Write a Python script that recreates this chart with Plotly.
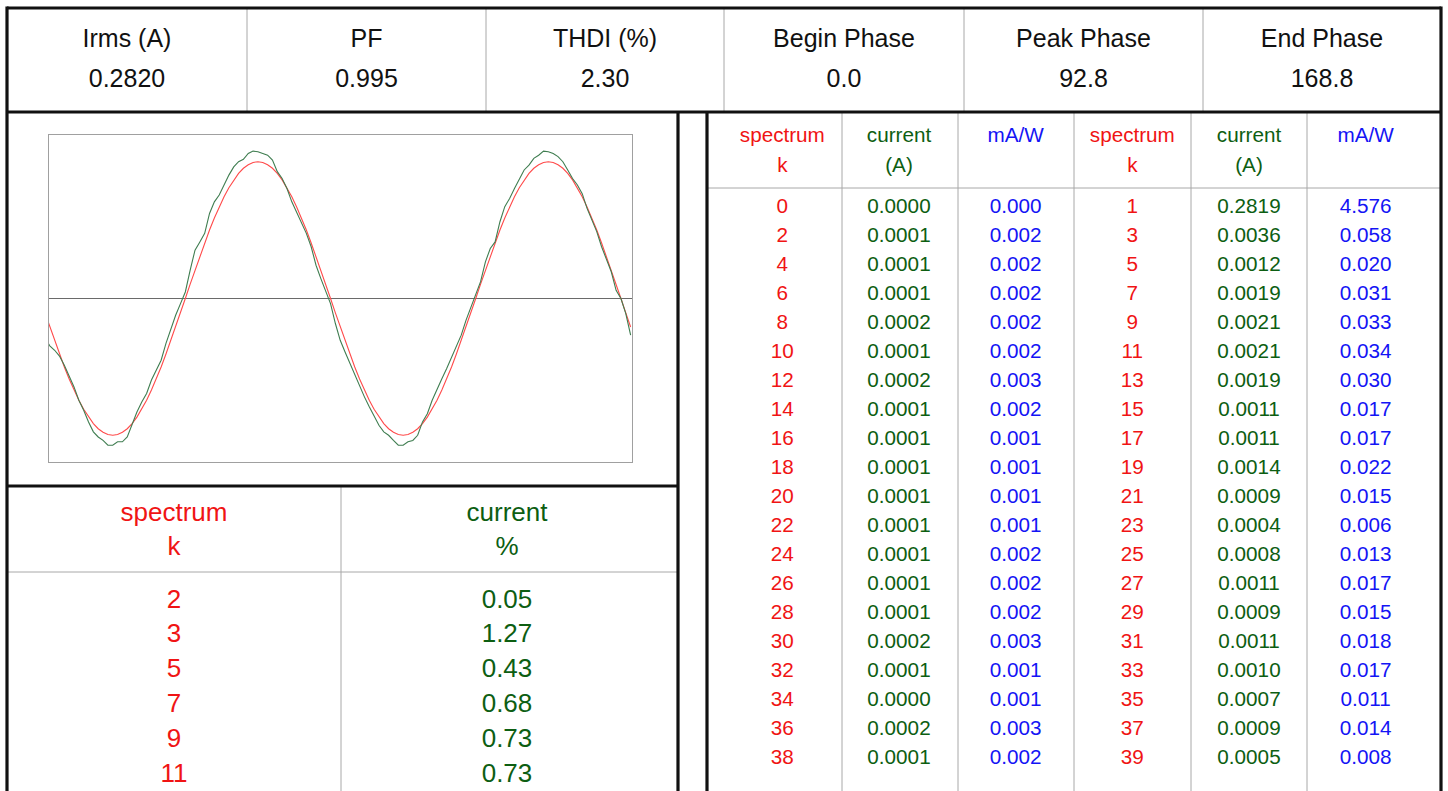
import plotly.graph_objects as go

W, H = 1448, 791

# ------------------------------------------------------------------ data
summary_labels = ["Irms (A)", "PF", "THDI (%)", "Begin Phase", "Peak Phase", "End Phase"]
summary_values = [0.2820, 0.995, 2.30, 0.0, 92.8, 168.8]
summary_formats = ["{:.4f}", "{:.3f}", "{:.2f}", "{:.1f}", "{:.1f}", "{:.1f}"]

even_k = [0, 2, 4, 6, 8, 10, 12, 14, 16, 18, 20, 22, 24, 26, 28, 30, 32, 34, 36, 38]
even_current_a = [0.0000, 0.0001, 0.0001, 0.0001, 0.0002, 0.0001, 0.0002, 0.0001, 0.0001, 0.0001,
                  0.0001, 0.0001, 0.0001, 0.0001, 0.0001, 0.0002, 0.0001, 0.0000, 0.0002, 0.0001]
even_ma_per_w = [0.000, 0.002, 0.002, 0.002, 0.002, 0.002, 0.003, 0.002, 0.001, 0.001,
                 0.001, 0.001, 0.002, 0.002, 0.002, 0.003, 0.001, 0.001, 0.003, 0.002]

odd_k = [1, 3, 5, 7, 9, 11, 13, 15, 17, 19, 21, 23, 25, 27, 29, 31, 33, 35, 37, 39]
odd_current_a = [0.2819, 0.0036, 0.0012, 0.0019, 0.0021, 0.0021, 0.0019, 0.0011, 0.0011, 0.0014,
                 0.0009, 0.0004, 0.0008, 0.0011, 0.0009, 0.0011, 0.0010, 0.0007, 0.0009, 0.0005]
odd_ma_per_w = [4.576, 0.058, 0.020, 0.031, 0.033, 0.034, 0.030, 0.017, 0.017, 0.022,
                0.015, 0.006, 0.013, 0.017, 0.015, 0.018, 0.017, 0.011, 0.014, 0.008]

thd_k = [2, 3, 5, 7, 9, 11]
thd_current_pct = [0.05, 1.27, 0.43, 0.68, 0.73, 0.73]

# waveform samples (phase of fundamental in degrees, amplitude in A)
wave_phase_deg = list(range(186, 913, 6))
fundamental_a = [
    -0.042, -0.083, -0.123, -0.162, -0.200, -0.235, -0.267, -0.297, -0.323, -0.346,
    -0.365, -0.380, -0.390, -0.397, -0.399, -0.397, -0.390, -0.380, -0.365, -0.346,
    -0.323, -0.297, -0.267, -0.235, -0.200, -0.162, -0.123, -0.083, -0.042,
    0.0,
    0.042, 0.083, 0.123, 0.162, 0.200, 0.235, 0.267, 0.297, 0.323, 0.346,
    0.365, 0.380, 0.390, 0.397, 0.399, 0.397, 0.390, 0.380, 0.365, 0.346,
    0.323, 0.297, 0.267, 0.235, 0.200, 0.162, 0.123, 0.083, 0.042,
    0.0,
    -0.042, -0.083, -0.123, -0.162, -0.200, -0.235, -0.267, -0.297, -0.323, -0.346,
    -0.365, -0.380, -0.390, -0.397, -0.399, -0.397, -0.390, -0.380, -0.365, -0.346,
    -0.323, -0.297, -0.267, -0.235, -0.200, -0.162, -0.123, -0.083, -0.042,
    0.0,
    0.042, 0.083, 0.123, 0.162, 0.200, 0.235, 0.267, 0.297, 0.323, 0.346,
    0.365, 0.380, 0.390, 0.397, 0.399, 0.397, 0.390, 0.380, 0.365, 0.346,
    0.323, 0.297, 0.267, 0.235, 0.200, 0.162, 0.123, 0.083, 0.042,
    0.0,
    -0.042, -0.083,
]
measured_a = [
    -0.115, -0.138, -0.151, -0.168, -0.195, -0.224, -0.258, -0.297, -0.326, -0.360,
    -0.389, -0.404, -0.414, -0.428, -0.428, -0.418, -0.418, -0.404, -0.365, -0.331,
    -0.302, -0.277, -0.238, -0.209, -0.180, -0.131, -0.088, -0.049, -0.015, 0.019,
    0.083, 0.141, 0.165, 0.190, 0.248, 0.282, 0.302, 0.331, 0.360, 0.384,
    0.399, 0.406, 0.423, 0.430, 0.428, 0.423, 0.418, 0.404, 0.370, 0.350,
    0.321, 0.282, 0.253, 0.224, 0.190, 0.151, 0.097, 0.058, 0.019, -0.015,
    -0.073, -0.122, -0.156, -0.190, -0.219, -0.258, -0.287, -0.316, -0.341, -0.370,
    -0.389, -0.399, -0.414, -0.428, -0.428, -0.418, -0.414, -0.399, -0.360, -0.336,
    -0.297, -0.268, -0.234, -0.204, -0.170, -0.141, -0.107, -0.063, -0.024, 0.010,
    0.049, 0.107, 0.146, 0.165, 0.224, 0.268, 0.292, 0.321, 0.350, 0.375,
    0.389, 0.409, 0.418, 0.430, 0.428, 0.423, 0.414, 0.399, 0.375, 0.350,
    0.331, 0.306, 0.263, 0.229, 0.195, 0.151, 0.117, 0.078, 0.024, 0.0,
    -0.044, -0.107,
]
assert len(fundamental_a) == len(wave_phase_deg) == len(measured_a)

# ------------------------------------------------------------------ styles / layout constants
FONT = "Liberation Sans, Arial, sans-serif"
RED = "#f01414"
GREEN = "#0d5e12"
BLUE = "#1414f5"
BLACK = "#111111"
GRID = "#a8a8a8"
THICK = 3.2

fig = go.Figure()

# waveform subplot (x / y)
fig.add_trace(go.Scatter(x=wave_phase_deg, y=fundamental_a, mode="lines",
                         line=dict(color="#ff4a4a", width=1.1), hoverinfo="skip",
                         xaxis="x", yaxis="y"))
fig.add_trace(go.Scatter(x=wave_phase_deg, y=measured_a, mode="lines",
                         line=dict(color="#3f7d50", width=1.1), hoverinfo="skip",
                         xaxis="x", yaxis="y"))


def add_text(xs, ys, texts, color, size):
    fig.add_trace(go.Scatter(x=xs, y=ys, text=texts, mode="text",
                             textposition="middle center",
                             textfont=dict(family=FONT, size=size, color=color),
                             hoverinfo="skip", cliponaxis=False,
                             xaxis="x2", yaxis="y2"))


# summary header
sum_edges = [7, 247, 486, 724, 964, 1203, 1441]
sum_cx = [(a + b) / 2 for a, b in zip(sum_edges[:-1], sum_edges[1:])]
add_text(sum_cx, [41] * 6, summary_labels, BLACK, 25)
add_text(sum_cx, [81] * 6,
         [f.format(v) for f, v in zip(summary_formats, summary_values)], BLACK, 25)

# right spectrum table
col_w = (1424 - 724) / 6
rc = [724 + col_w * (i + 0.5) for i in range(6)]
row_y = [208 + 29 * i for i in range(len(even_k))]
TS = 20.7
add_text([rc[0], rc[3]], [137, 137], ["spectrum", "spectrum"], RED, TS)
add_text([rc[0], rc[3]], [167, 167], ["k", "k"], RED, TS)
add_text([rc[1], rc[4]], [137, 137], ["current", "current"], GREEN, TS)
add_text([rc[1], rc[4]], [167, 167], ["(A)", "(A)"], GREEN, TS)
add_text([rc[2], rc[5]], [137, 137], ["mA/W", "mA/W"], BLUE, TS)
add_text([rc[0]] * len(even_k), row_y, [str(k) for k in even_k], RED, TS)
add_text([rc[1]] * len(even_k), row_y, [f"{v:.4f}" for v in even_current_a], GREEN, TS)
add_text([rc[2]] * len(even_k), row_y, [f"{v:.3f}" for v in even_ma_per_w], BLUE, TS)
add_text([rc[3]] * len(odd_k), row_y, [str(k) for k in odd_k], RED, TS)
add_text([rc[4]] * len(odd_k), row_y, [f"{v:.4f}" for v in odd_current_a], GREEN, TS)
add_text([rc[5]] * len(odd_k), row_y, [f"{v:.3f}" for v in odd_ma_per_w], BLUE, TS)

# bottom-left harmonic % table
bl_c = [174, 507]
bl_y = [601 + 34.8 * i for i in range(len(thd_k))]
add_text([bl_c[0]], [514], ["spectrum"], RED, 26)
add_text([bl_c[0]], [548], ["k"], RED, 26)
add_text([bl_c[1]], [514], ["current"], GREEN, 26)
add_text([bl_c[1]], [548], ["%"], GREEN, 26)
add_text([bl_c[0]] * len(thd_k), bl_y, [str(k) for k in thd_k], RED, 26)
add_text([bl_c[1]] * len(thd_k), bl_y, [f"{v:.2f}" for v in thd_current_pct], GREEN, 26)

# ------------------------------------------------------------------ frame lines
shapes = []


def line(x0, y0, x1, y1, color, width):
    shapes.append(dict(type="line", xref="x2", yref="y2", x0=x0, y0=y0, x1=x1, y1=y1,
                       line=dict(color=color, width=width), layer="above"))


# thin gray separators
for x in [247, 486, 724, 964, 1203]:
    line(x, 8, x, 112, GRID, 1)
for x in [842, 958, 1074, 1191, 1307]:
    line(x, 112, x, H + 2, GRID, 1)
line(707, 188, 1441, 188, GRID, 1)
line(7, 572, 678, 572, GRID, 1)
line(341, 486, 341, H + 2, GRID, 1)

# thick black borders
line(7, 8, 1441, 8, BLACK, THICK)
line(7, 112, 1441, 112, BLACK, THICK)
line(7, 6.5, 7, H + 2, BLACK, THICK)
line(1441, 6.5, 1441, H + 2, BLACK, THICK)
line(678, 112, 678, H + 2, BLACK, THICK)
line(707, 112, 707, H + 2, BLACK, THICK)
line(7, 486, 678, 486, BLACK, THICK)

fig.update_layout(
    width=W, height=H,
    margin=dict(l=0, r=0, t=0, b=0),
    paper_bgcolor="white",
    plot_bgcolor="rgba(0,0,0,0)",
    showlegend=False,
    shapes=shapes,
    xaxis=dict(domain=[49 / W, 632 / W], range=[191, 913.7], showgrid=False,
               showticklabels=False, ticks="", zeroline=False,
               showline=True, mirror=True, linecolor="#a0a0a0", linewidth=1),
    yaxis=dict(domain=[1 - 462 / H, 1 - 135 / H], range=[-0.477, 0.477], showgrid=False,
               showticklabels=False, ticks="", zeroline=True, zerolinecolor="#6a6a6a",
               zerolinewidth=1, showline=True, mirror=True, linecolor="#a0a0a0",
               linewidth=1),
    xaxis2=dict(domain=[0, 1], range=[0, W], visible=False, anchor="y2"),
    yaxis2=dict(domain=[0, 1], range=[H, 0], visible=False, anchor="x2"),
)

fig.write_html("out.html")
